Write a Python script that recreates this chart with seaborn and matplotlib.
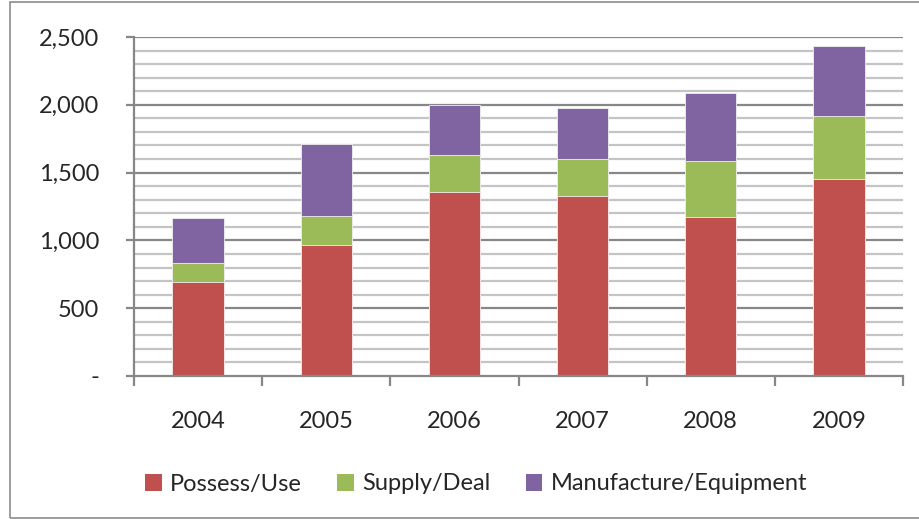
import pandas as pd
import matplotlib.pyplot as plt
import seaborn as sns
import numpy as np
from matplotlib.patches import Patch, Rectangle
from matplotlib.ticker import MultipleLocator, FuncFormatter

years = ["2004", "2005", "2006", "2007", "2008", "2009"]
possess_use = [695, 966, 1357, 1330, 1175, 1453]
supply_deal = [136, 214, 270, 270, 408, 462]
manufacture_equipment = [336, 531, 371, 374, 504, 519]

series_names = ["Possess/Use", "Supply/Deal", "Manufacture/Equipment"]
colors = ["#C0504D", "#9BBB59", "#8064A2"]

df = pd.DataFrame({
    "Year": years,
    "Possess/Use": possess_use,
    "Supply/Deal": supply_deal,
    "Manufacture/Equipment": manufacture_equipment,
})
# cumulative tops for stacking
df["top1"] = df["Possess/Use"]
df["top2"] = df["top1"] + df["Supply/Deal"]
df["top3"] = df["top2"] + df["Manufacture/Equipment"]

sns.set_style("white")
plt.rcParams["font.family"] = ["Lato", "DejaVu Sans"]

fig = plt.figure(figsize=(9.19, 5.19), dpi=100)
ax = fig.add_axes([134 / 919, 1 - 376 / 519, (903 - 134) / 919, (376 - 37) / 519])

# outer chart border
fig.patches.append(Rectangle((10 / 919, 0.002), 1.2, 0.995, transform=fig.transFigure,
                             fill=False, edgecolor="#8c8c8c", linewidth=1.2))

# gridlines
for v in range(100, 2500, 100):
    if v % 500 != 0:
        ax.axhline(v, color="#c4c4c4", linewidth=1.6, zorder=0)
for v in range(500, 2501, 500):
    ax.axhline(v, color="#878787", linewidth=1.6, zorder=0)

# stacked bars drawn from tallest to shortest
for col, c in zip(["top3", "top2", "top1"], colors[::-1]):
    sns.barplot(data=df, x="Year", y=col, color=c, width=0.4, saturation=1,
                edgecolor="#f0f0f0", linewidth=0.6, ax=ax, zorder=2)

ax.set_xlim(-0.5, 5.5)
ax.set_ylim(0, 2500)
ax.yaxis.set_major_locator(MultipleLocator(500))
ax.yaxis.set_major_formatter(FuncFormatter(lambda v, p: "-" if v == 0 else f"{int(v):,}"))
ax.set_xlabel("")
ax.set_ylabel("")

for s in ["top", "right"]:
    ax.spines[s].set_visible(False)
for s in ["left", "bottom"]:
    ax.spines[s].set_color("#878787")
    ax.spines[s].set_linewidth(1.6)

ax.tick_params(axis="y", left=True, length=6, width=1.6, color="#878787",
               labelsize=17, pad=19)
ax.tick_params(axis="x", bottom=False, labelsize=17, pad=22)
# category boundary ticks on x axis
ax.set_xticks(np.arange(-0.5, 6, 1), minor=True)
ax.tick_params(axis="x", which="minor", bottom=True, length=7, width=1.6,
               color="#878787")

handles = [Patch(facecolor=c, edgecolor="none", label=n) for n, c in zip(series_names, colors)]
fig.legend(handles=handles, loc="center", bbox_to_anchor=(476 / 919, 1 - 484 / 519),
           ncol=3, frameon=False, fontsize=17, handlelength=0.7, handleheight=0.7,
           handletextpad=0.35, columnspacing=1.5)

fig.savefig("out.png", dpi=100)
